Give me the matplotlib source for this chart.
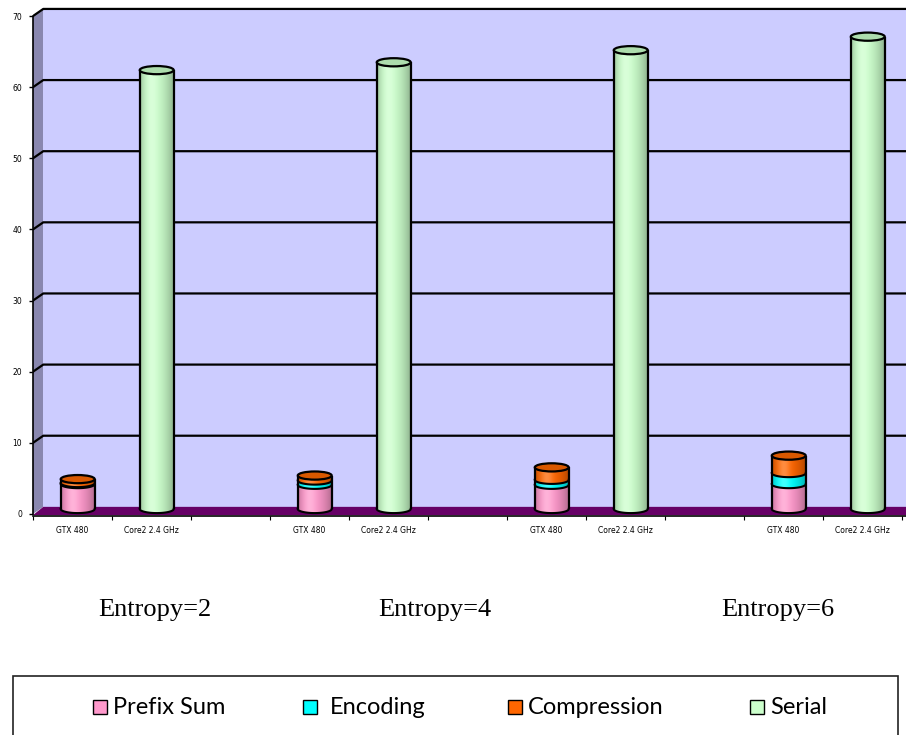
import numpy as np
import matplotlib
matplotlib.use('Agg')
import matplotlib.pyplot as plt
from matplotlib.patches import Polygon, Rectangle, Ellipse
from matplotlib.colors import to_rgb

# categories along the x axis (every third slot is an empty spacer)
categories = ['GTX 480', 'Core2 2.4 GHz', '',
              'GTX 480', 'Core2 2.4 GHz', '',
              'GTX 480', 'Core2 2.4 GHz', '',
              'GTX 480', 'Core2 2.4 GHz']
gpu_pos = [0, 3, 6, 9]
cpu_pos = [1, 4, 7, 10]

# stacked GPU timings and serial CPU timing
prefix_sum = [3.5, 3.4, 3.4, 3.5]
encoding = [0.15, 0.6, 0.7, 1.55]
compression = [0.55, 0.7, 1.75, 2.45]
serial = [61.7, 62.8, 64.5, 66.4]

series_names = ['Prefix Sum', 'Encoding', 'Compression', 'Serial']
series_colors = ['#FF99CC', '#00FFFF', '#FF6600', '#CCFFCC']
top_colors = ['#E585B5', '#00D8D8', '#D95800', '#ADDDAD']
entropy_labels = ['Entropy=2', 'Entropy=4', 'Entropy=6']

W, H = 906, 735
DX, DY = 0.13, 1.0       # fake 3d depth (x in categories, y in data units)
BASE = 0.7               # cylinders stand half way into the floor
BAR_W = 0.43
XOFF = 0.066
ELL_H = 1.15
XMAX = 10.55

fig = plt.figure(figsize=(W / 100, H / 100), dpi=100)
ax = fig.add_axes([33 / W, (H - 516.1) / H, 873 / W, 509.3 / H])


def shade_row(color, n=80):
    c = np.array(to_rgb(color))
    t = np.linspace(0, 1, n)
    f = np.where(t >= 0.35, 1 - 0.3 * ((t - 0.35) / 0.65) ** 2,
                 1 - 0.22 * ((0.35 - t) / 0.35) ** 2)
    hl = 0.25 * np.exp(-((t - 0.35) / 0.18) ** 2)
    rgb = c[None, :] * f[:, None]
    rgb = rgb + (1 - rgb) * hl[:, None]
    return np.clip(rgb, 0, 1)[None, :, :]


def draw_segment(patch, color, z):
    x0, y0 = patch.get_x(), patch.get_y()
    w, h = patch.get_width(), patch.get_height()
    x1, y1 = x0 + w, y0 + h
    xc = x0 + w / 2
    th = np.linspace(np.pi, 2 * np.pi, 60)
    arc_x = xc + w / 2 * np.cos(th)
    arc_y = y0 + ELL_H / 2 * np.sin(th)
    verts = [(x0, y1)] + list(zip(arc_x, arc_y)) + [(x1, y1)]
    clip = Polygon(verts, closed=True, transform=ax.transData)
    im = ax.imshow(shade_row(color), extent=(x0, x1, y0 - ELL_H / 2, y1),
                   aspect='auto', interpolation='bilinear', zorder=z)
    im.set_clip_path(clip)
    ax.plot([x0, x0], [y0, y1], color='black', lw=1.6, zorder=z + 0.2,
            solid_capstyle='butt')
    ax.plot([x1, x1], [y0, y1], color='black', lw=1.6, zorder=z + 0.2,
            solid_capstyle='butt')
    ax.plot(arc_x, arc_y, color='black', lw=1.5, zorder=z + 0.2)


def draw_top(patch, color, z):
    w = patch.get_width()
    ax.add_patch(Ellipse((patch.get_x() + w / 2, patch.get_y() + patch.get_height()),
                         w, ELL_H, facecolor=color, edgecolor='black',
                         lw=1.6, zorder=z))


# walls, gridlines and floor
ax.add_patch(Polygon([(-0.5, 0), (-0.5 + DX, DY), (-0.5 + DX, 70 + DY), (-0.5, 70)],
                     closed=True, facecolor='#8987AF', edgecolor='none', zorder=0))
ax.add_patch(Rectangle((-0.5 + DX, DY), 20, 70, facecolor='#CCCCFF',
                       edgecolor='none', zorder=0))
for v in range(10, 71, 10):
    ax.plot([-0.5, -0.5 + DX, XMAX + 1], [v, v + DY, v + DY], color='black',
            lw=1.6, zorder=1, solid_capstyle='butt')
ax.add_patch(Polygon([(-0.5, -0.15), (-0.5 + DX, DY), (XMAX + 1, DY), (XMAX + 1, -0.15)],
                     closed=True, facecolor='#660066', edgecolor='none', zorder=1.5))

# stacked GPU cylinders
gx = np.array(gpu_pos) + XOFF
stack = [prefix_sum, encoding, compression]
bottoms = np.full(len(gx), BASE)
gpu_bars = []
for vals, col in zip(stack, series_colors[:3]):
    bars = ax.bar(gx, vals, width=BAR_W, bottom=bottoms, color='none',
                  linewidth=0, zorder=2)
    gpu_bars.append(bars)
    bottoms = bottoms + np.array(vals)

for i in range(len(gx)):
    z = 3
    for k, bars in enumerate(gpu_bars):
        draw_segment(bars[i], series_colors[k], z)
        z += 1
    draw_top(gpu_bars[-1][i], top_colors[2], z)

# serial CPU cylinders
cpu_bars = ax.bar(np.array(cpu_pos) + XOFF, serial, width=BAR_W, bottom=BASE,
                  color='none', linewidth=0, zorder=2)
for p in cpu_bars:
    draw_segment(p, series_colors[3], 3)
    draw_top(p, top_colors[3], 4)

# axes styling
for s in ['top', 'right']:
    ax.spines[s].set_visible(False)
ax.spines['left'].set_bounds(0, 70)
ax.spines['left'].set_linewidth(1.2)
ax.spines['bottom'].set_linewidth(1.2)
ax.spines['left'].set_zorder(6)
ax.spines['bottom'].set_zorder(6)

ax.set_yticks(range(0, 71, 10))
ax.tick_params(axis='y', direction='out', length=3, width=1, pad=5, labelsize=5.5)

ax.set_xticks(np.arange(-0.5, 10.6, 1.0))
ax.set_xticklabels([])
ax.set_xticks(np.arange(len(categories)), minor=True)
ax.set_xticklabels(categories, minor=True)
ax.tick_params(axis='x', which='major', direction='out', length=3, width=0.8)
ax.tick_params(axis='x', which='minor', length=0, pad=7, labelsize=5.5)

ax.set_xlim(-0.5, XMAX)
ax.set_ylim(-0.3, 71.3)

# group captions
for lbl, px in zip(entropy_labels, [155, 435, 778]):
    fig.text(px / W, 1 - 610 / H, lbl, ha='center', va='center',
             fontsize=19, family=['Liberation Serif', 'DejaVu Serif'])

# legend box
fig.patches.append(Rectangle((13 / W, -0.02), (898 - 13) / W, 0.02 + (735 - 676) / H,
                             transform=fig.transFigure, facecolor='white',
                             edgecolor='#222222', lw=1.2))
sq_x = [93, 303, 508, 750]
txt_x = [113, 330, 528, 770]
for name, col, sx, tx in zip(series_names, series_colors, sq_x, txt_x):
    fig.patches.append(Rectangle((sx / W, 1 - 714 / H), 14 / W, 14 / H,
                                 transform=fig.transFigure, facecolor=col,
                                 edgecolor='black', lw=1.0))
    fig.text(tx / W, 1 - 707 / H, name, ha='left', va='center', fontsize=17,
             family=['Lato', 'DejaVu Sans'])

fig.savefig('out.png', dpi=100)
